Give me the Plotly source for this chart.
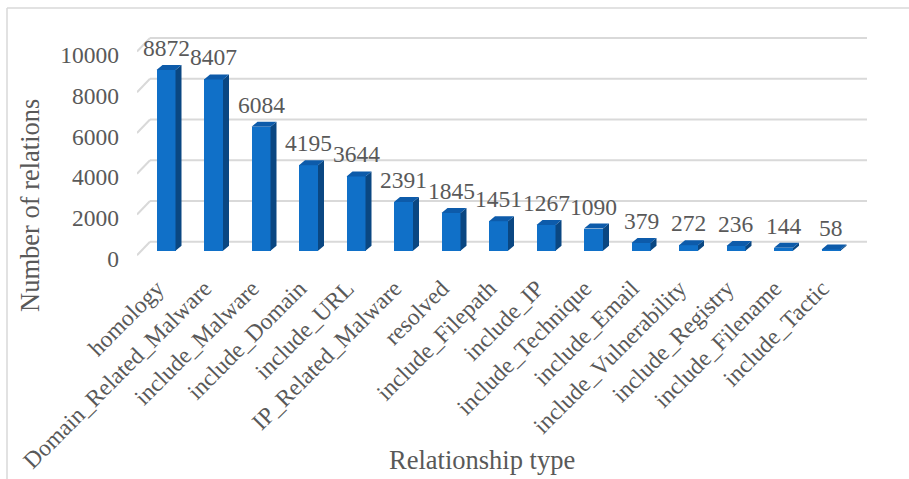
import plotly.graph_objects as go

categories = ["homology", "Domain_Related_Malware", "include_Malware", "include_Domain",
              "include_URL", "IP_Related_Malware", "resolved", "include_Filepath",
              "include_IP", "include_Technique", "include_Email", "include_Vulnerability",
              "include_Registry", "include_Filename", "include_Tactic"]
values = [8872, 8407, 6084, 4195, 3644, 2391, 1845, 1451, 1267, 1090, 379, 272, 236, 144, 58]
y_ticks = [0, 2000, 4000, 6000, 8000, 10000]

# ---- layout geometry (pixels) ----
W, H = 909, 479
L, R = 137, 42
T, B = 20, 217
plot_w = W - L - R
plot_h = H - T - B
px_per_cat = 47.5
k = 0.020368  # px per unit value
y0_px = 250.7  # pixel row of value 0 on the bar plane
xmin = -29 / px_per_cat
xmax = xmin + plot_w / px_per_cat
ymin = -(T + plot_h - y0_px) / k
ymax = (y0_px - T) / k

bar_w = 19 / px_per_cat
dx = 6 / px_per_cat
dy = 5 / k
front_off = -4.5 / k
back_off = 9 / k
back_dx = 13 / px_per_cat

FONT = "Liberation Serif"
TXT = "#595959"
GRID = "#d9d9d9"

xs = list(range(len(categories)))

fig = go.Figure()

# back wall gridlines + side-wall diagonals (drawn below the bars)
for v in y_ticks:
    fig.add_shape(type="line", xref="x", yref="y", layer="below",
                  x0=xmin + back_dx, x1=xmax, y0=v + back_off, y1=v + back_off,
                  line=dict(color=GRID, width=2))
    fig.add_shape(type="line", xref="x", yref="y", layer="below",
                  x0=xmin, x1=xmin + back_dx, y0=v + front_off, y1=v + back_off,
                  line=dict(color=GRID, width=2))

# front faces
fig.add_trace(go.Bar(x=xs, y=values, width=bar_w, marker=dict(color="#1070C8", line=dict(width=0)),
                     showlegend=False))

# side and top faces
sx, sy = [], []
tx, ty = [], []
for i, v in zip(xs, values):
    r = i + bar_w / 2
    l = i - bar_w / 2
    sx += [r, r + dx, r + dx, r, r, None]
    sy += [0, dy, v + dy, v, 0, None]
    tx += [l, l + dx, r + dx, r, l, None]
    ty += [v, v + dy, v + dy, v, v, None]
fig.add_trace(go.Scatter(x=sx, y=sy, mode="lines", fill="toself", fillcolor="#0A4782",
                         line=dict(width=0, color="#0A4782"), hoverinfo="skip", showlegend=False))
fig.add_trace(go.Scatter(x=tx, y=ty, mode="lines", fill="toself", fillcolor="#0D5BAA",
                         line=dict(width=0, color="#0D5BAA"), hoverinfo="skip", showlegend=False))

# data labels
for i, v in zip(xs, values):
    fig.add_annotation(x=i, y=v, text=str(v), showarrow=False, yanchor="middle", yshift=22,
                       font=dict(family=FONT, size=23.5, color=TXT))

# axis titles
fig.add_annotation(xref="paper", yref="paper", x=(482 - L) / plot_w, y=(T + plot_h - 460) / plot_h,
                   text="Relationship type", showarrow=False, xanchor="center", yanchor="middle",
                   font=dict(family=FONT, size=26.5, color=TXT))
fig.add_annotation(xref="paper", yref="paper", x=(30 - L) / plot_w, y=(T + plot_h - 206) / plot_h,
                   text="Number of relations", showarrow=False, textangle=-90,
                   xanchor="center", yanchor="middle",
                   font=dict(family=FONT, size=26.5, color=TXT))

# chart border (top and left visible)
def px2paper_x(p):
    return (p - L) / plot_w

def px2paper_y(p):
    return (T + plot_h - p) / plot_h

fig.add_shape(type="line", xref="paper", yref="paper", x0=px2paper_x(7), x1=px2paper_x(912),
              y0=px2paper_y(8), y1=px2paper_y(8), line=dict(color=GRID, width=1.5))
fig.add_shape(type="line", xref="paper", yref="paper", x0=px2paper_x(7), x1=px2paper_x(7),
              y0=px2paper_y(8), y1=px2paper_y(482), line=dict(color=GRID, width=1.5))

fig.update_layout(
    width=W, height=H, autosize=False,
    margin=dict(l=L, r=R, t=T, b=B, pad=0),
    paper_bgcolor="white", plot_bgcolor="white",
    font=dict(family=FONT, color=TXT),
    bargap=0,
    xaxis=dict(range=[xmin, xmax], tickmode="array", tickvals=xs, ticktext=categories,
               tickangle=-45, showgrid=False, zeroline=False, showline=False, ticks="",
               automargin=False,
               tickfont=dict(family=FONT, size=23.5, color=TXT), ticklabelstandoff=7,
               ticklabelshift=-9),
    yaxis=dict(range=[ymin, ymax], tickmode="array", tickvals=y_ticks,
               ticktext=[str(v) for v in y_ticks], showgrid=False, zeroline=False,
               showline=False, ticks="", automargin=False,
               tickfont=dict(family=FONT, size=23.5, color=TXT),
               ticklabelstandoff=17, ticklabelshift=8),
)

fig.write_html("out.html")
